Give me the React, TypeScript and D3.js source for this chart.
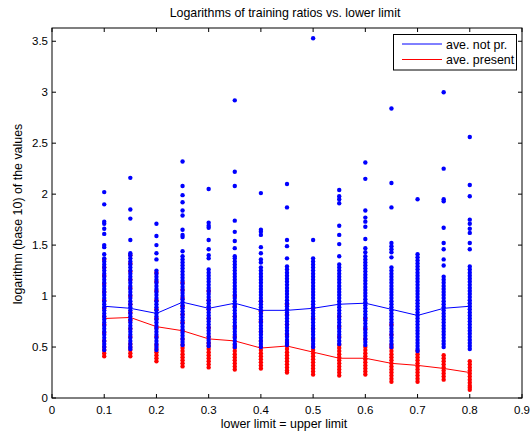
import React from 'react';
import * as d3 from 'd3';

// lower limit (= upper limit) values on the x axis
const lowerLimits = [0.1, 0.15, 0.2, 0.25, 0.3, 0.35, 0.4, 0.45, 0.5, 0.55, 0.6, 0.65, 0.7, 0.75, 0.8];

// averages of log10 ratios
const aveNotPresent = [0.90, 0.88, 0.83, 0.94, 0.88, 0.93, 0.86, 0.86, 0.88, 0.92, 0.93, 0.87, 0.81, 0.88, 0.90];
const avePresent = [0.78, 0.79, 0.70, 0.66, 0.58, 0.56, 0.49, 0.51, 0.45, 0.39, 0.39, 0.34, 0.32, 0.29, 0.25];

// individual log10 values, one list per lower limit
const notPresentValues = [
  [2.02, 1.90, 1.73, 1.71, 1.66, 1.61, 1.50, 1.48, 1.41, 1.37, 1.34, 1.31, 1.28, 1.25, 1.22, 1.19, 1.16, 1.13, 1.10, 1.07, 1.04, 1.01, 0.98, 0.95, 0.92, 0.89, 0.86, 0.83, 0.80, 0.77, 0.74, 0.71, 0.68, 0.65, 0.62, 0.59, 0.56, 0.53, 0.50, 0.47],
  [2.16, 1.85, 1.76, 1.55, 1.42, 1.40, 1.37, 1.34, 1.31, 1.28, 1.25, 1.22, 1.19, 1.16, 1.13, 1.10, 1.07, 1.04, 1.01, 0.98, 0.95, 0.92, 0.89, 0.86, 0.83, 0.80, 0.77, 0.74, 0.71, 0.68, 0.65, 0.62, 0.59, 0.56, 0.53, 0.50, 0.48],
  [1.71, 1.59, 1.50, 1.42, 1.36, 1.25, 1.22, 1.19, 1.16, 1.13, 1.10, 1.07, 1.04, 1.01, 0.98, 0.95, 0.92, 0.89, 0.86, 0.83, 0.80, 0.77, 0.74, 0.71, 0.68, 0.65, 0.62, 0.59, 0.56, 0.53, 0.50, 0.47],
  [2.32, 2.08, 1.99, 1.92, 1.84, 1.79, 1.65, 1.60, 1.58, 1.44, 1.39, 1.36, 1.33, 1.30, 1.27, 1.24, 1.21, 1.18, 1.15, 1.12, 1.09, 1.06, 1.03, 1.00, 0.97, 0.94, 0.91, 0.88, 0.85, 0.82, 0.79, 0.76, 0.73, 0.70, 0.67, 0.64, 0.61, 0.58, 0.55, 0.52],
  [2.05, 1.72, 1.69, 1.67, 1.55, 1.46, 1.40, 1.37, 1.26, 1.23, 1.20, 1.17, 1.14, 1.11, 1.08, 1.05, 1.02, 0.99, 0.96, 0.93, 0.90, 0.87, 0.84, 0.81, 0.78, 0.75, 0.72, 0.69, 0.66, 0.63, 0.60, 0.57, 0.54, 0.51],
  [2.92, 2.22, 2.08, 1.74, 1.63, 1.54, 1.47, 1.39, 1.37, 1.34, 1.31, 1.28, 1.25, 1.22, 1.19, 1.16, 1.13, 1.10, 1.07, 1.04, 1.01, 0.98, 0.95, 0.92, 0.89, 0.86, 0.83, 0.80, 0.77, 0.74, 0.71, 0.68, 0.65, 0.62, 0.59, 0.56, 0.53, 0.50],
  [2.01, 1.65, 1.63, 1.60, 1.48, 1.42, 1.36, 1.33, 1.28, 1.25, 1.22, 1.19, 1.16, 1.13, 1.10, 1.07, 1.04, 1.01, 0.98, 0.95, 0.92, 0.89, 0.86, 0.83, 0.80, 0.77, 0.74, 0.71, 0.68, 0.65, 0.62, 0.59, 0.56, 0.53, 0.50],
  [2.10, 1.87, 1.55, 1.49, 1.37, 1.29, 1.26, 1.23, 1.20, 1.17, 1.14, 1.11, 1.08, 1.05, 1.02, 0.99, 0.96, 0.93, 0.90, 0.87, 0.84, 0.81, 0.78, 0.75, 0.72, 0.69, 0.66, 0.63, 0.60, 0.57, 0.54, 0.52],
  [3.53, 1.55, 1.37, 1.34, 1.31, 1.28, 1.25, 1.22, 1.19, 1.16, 1.13, 1.10, 1.07, 1.04, 1.01, 0.98, 0.95, 0.92, 0.89, 0.86, 0.83, 0.80, 0.77, 0.74, 0.71, 0.68, 0.65, 0.62, 0.59, 0.56, 0.53, 0.50],
  [2.04, 1.98, 1.95, 1.91, 1.69, 1.60, 1.51, 1.39, 1.31, 1.28, 1.25, 1.22, 1.19, 1.16, 1.13, 1.10, 1.07, 1.04, 1.01, 0.98, 0.95, 0.92, 0.89, 0.86, 0.83, 0.80, 0.77, 0.74, 0.71, 0.68, 0.65, 0.62, 0.59, 0.56, 0.53],
  [2.31, 2.15, 1.84, 1.77, 1.73, 1.68, 1.56, 1.47, 1.43, 1.39, 1.36, 1.33, 1.30, 1.27, 1.24, 1.21, 1.18, 1.15, 1.12, 1.09, 1.06, 1.03, 1.00, 0.97, 0.94, 0.91, 0.88, 0.85, 0.82, 0.79, 0.76, 0.73, 0.70, 0.67, 0.64, 0.61, 0.58, 0.55, 0.52],
  [2.84, 2.11, 1.87, 1.52, 1.49, 1.46, 1.43, 1.38, 1.28, 1.25, 1.22, 1.19, 1.16, 1.13, 1.10, 1.07, 1.04, 1.01, 0.98, 0.95, 0.92, 0.89, 0.86, 0.83, 0.80, 0.77, 0.74, 0.71, 0.68, 0.65, 0.62, 0.59, 0.56, 0.53, 0.50],
  [1.95, 1.41, 1.38, 1.35, 1.32, 1.29, 1.26, 1.23, 1.20, 1.17, 1.14, 1.11, 1.08, 1.05, 1.02, 0.99, 0.96, 0.93, 0.90, 0.87, 0.84, 0.81, 0.78, 0.75, 0.72, 0.69, 0.66, 0.63, 0.60, 0.57, 0.54, 0.51, 0.48, 0.46],
  [3.00, 2.25, 1.95, 1.93, 1.67, 1.52, 1.46, 1.36, 1.30, 1.19, 1.16, 1.13, 1.10, 1.07, 1.04, 1.01, 0.98, 0.95, 0.92, 0.89, 0.86, 0.83, 0.80, 0.77, 0.74, 0.71, 0.68, 0.65, 0.62, 0.59, 0.56, 0.53, 0.50],
  [2.56, 2.09, 1.98, 1.75, 1.71, 1.66, 1.62, 1.52, 1.46, 1.29, 1.26, 1.23, 1.20, 1.17, 1.14, 1.11, 1.08, 1.05, 1.02, 0.99, 0.96, 0.93, 0.90, 0.87, 0.84, 0.81, 0.78, 0.75, 0.72, 0.69, 0.66, 0.63, 0.60, 0.57, 0.54, 0.51, 0.48],
];

const presentValues = [
  [1.36, 1.28, 1.20, 1.12, 1.04, 0.96, 0.88, 0.80, 0.72, 0.64, 0.56, 0.50, 0.47, 0.44, 0.41],
  [1.40, 1.32, 1.24, 1.16, 1.08, 1.00, 0.92, 0.84, 0.76, 0.68, 0.60, 0.53, 0.50, 0.47, 0.44, 0.41],
  [1.23, 1.14, 1.05, 0.96, 0.87, 0.78, 0.69, 0.60, 0.52, 0.48, 0.45, 0.42, 0.39, 0.36],
  [1.13, 1.06, 0.98, 0.90, 0.82, 0.74, 0.66, 0.58, 0.52, 0.49, 0.46, 0.43, 0.40, 0.37, 0.34, 0.31],
  [1.05, 0.96, 0.87, 0.78, 0.69, 0.60, 0.54, 0.51, 0.48, 0.45, 0.42, 0.39, 0.36, 0.33, 0.30],
  [1.00, 0.90, 0.80, 0.70, 0.60, 0.52, 0.49, 0.46, 0.43, 0.40, 0.37, 0.34, 0.31, 0.28],
  [0.95, 0.85, 0.75, 0.65, 0.56, 0.50, 0.47, 0.44, 0.41, 0.38, 0.35, 0.32, 0.29],
  [0.92, 0.82, 0.72, 0.62, 0.55, 0.51, 0.48, 0.45, 0.42, 0.39, 0.36, 0.33, 0.30, 0.27, 0.25],
  [0.88, 0.78, 0.68, 0.58, 0.50, 0.47, 0.44, 0.41, 0.38, 0.35, 0.32, 0.29, 0.26, 0.23],
  [0.80, 0.70, 0.60, 0.52, 0.49, 0.46, 0.43, 0.40, 0.37, 0.34, 0.31, 0.28, 0.25, 0.22],
  [0.78, 0.68, 0.58, 0.50, 0.47, 0.44, 0.41, 0.38, 0.35, 0.32, 0.29, 0.26, 0.23],
  [0.72, 0.62, 0.52, 0.49, 0.46, 0.43, 0.40, 0.37, 0.34, 0.31, 0.28, 0.25, 0.22, 0.19, 0.16],
  [0.46, 0.43, 0.40, 0.37, 0.34, 0.31, 0.28, 0.25, 0.22, 0.19, 0.16],
  [0.42, 0.39, 0.36, 0.33, 0.30, 0.27, 0.24, 0.21, 0.18],
  [0.36, 0.33, 0.30, 0.27, 0.24, 0.21, 0.18, 0.15, 0.12, 0.10, 0.08],
];

const xTicks = [0, 0.1, 0.2, 0.3, 0.4, 0.5, 0.6, 0.7, 0.8, 0.9];
const yTicks = [0, 0.5, 1, 1.5, 2, 2.5, 3, 3.5];
const legendLabels = ['ave. not pr.', 'ave. present'];

const W = 530, H = 433;
const left = 52, right = 522, top = 28, bottom = 398;
const font = 'Liberation Sans, Arial, Helvetica, sans-serif';
const BLUE = '#0000ff', RED = '#ff0000';

export default function App() {
  const x = d3.scaleLinear().domain([0, 0.9]).range([left, right]);
  const y = d3.scaleLinear().domain([0, 3.63]).range([bottom, top]);
  const line = d3.line<number>().x((_, i) => x(lowerLimits[i])).y(d => y(d));
  const tick = 4;
  const r = 2.2;

  return (
    <div style={{ position: 'absolute', left: 0, top: 0 }}>
      <svg width={W} height={H} style={{ display: 'block', background: '#fff' }} fontFamily={font}>
        <rect x={left} y={top} width={right - left} height={bottom - top} fill="#fff" />

        {/* average lines */}
        <path d={line(aveNotPresent) || ''} fill="none" stroke={BLUE} strokeWidth={1} />
        <path d={line(avePresent) || ''} fill="none" stroke={RED} strokeWidth={1} />

        {/* individual values */}
        <g fill={RED}>
          {presentValues.map((vals, i) => vals.map((v, j) => (
            <circle key={`r${i}-${j}`} cx={x(lowerLimits[i])} cy={y(v)} r={r} />
          )))}
        </g>
        <g fill={BLUE}>
          {notPresentValues.map((vals, i) => vals.map((v, j) => (
            <circle key={`b${i}-${j}`} cx={x(lowerLimits[i])} cy={y(v)} r={r} />
          )))}
        </g>

        {/* frame and ticks */}
        <rect x={left} y={top} width={right - left} height={bottom - top} fill="none" stroke="#000" strokeWidth={1} />
        <g stroke="#000" strokeWidth={1}>
          {xTicks.map(t => (
            <g key={`xt${t}`}>
              <line x1={x(t)} x2={x(t)} y1={bottom} y2={bottom - tick} />
              <line x1={x(t)} x2={x(t)} y1={top} y2={top + tick} />
            </g>
          ))}
          {yTicks.map(t => (
            <g key={`yt${t}`}>
              <line x1={left} x2={left + tick} y1={y(t)} y2={y(t)} />
              <line x1={right} x2={right - tick} y1={y(t)} y2={y(t)} />
            </g>
          ))}
        </g>
        <g fontSize={11.5} fill="#000">
          {xTicks.map(t => (
            <text key={`xl${t}`} x={x(t)} y={bottom + 16} textAnchor="middle">{d3.format('~g')(t)}</text>
          ))}
          {yTicks.map(t => (
            <text key={`yl${t}`} x={left - 4} y={y(t) + 4} textAnchor="end">{d3.format('~g')(t)}</text>
          ))}
        </g>

        {/* titles */}
        <text x={(left + right) / 2 - 2} y={17} textAnchor="middle" fontSize={12.4}>Logarithms of training ratios vs. lower limit</text>
        <text x={(left + right) / 2 - 3} y={428} textAnchor="middle" fontSize={12.4}>lower limit = upper limit</text>
        <text transform={`translate(22,${(top + bottom) / 2 + 1}) rotate(-90)`} textAnchor="middle" fontSize={12.4}>logarithm (base 10) of the values</text>

        {/* legend */}
        <g>
          <rect x={393.5} y={34.5} width={123} height={35.5} fill="#fff" stroke="#000" strokeWidth={1} />
          {legendLabels.map((lbl, i) => (
            <g key={lbl} transform={`translate(0,${44 + i * 15.5})`}>
              <line x1={402} x2={442} y1={0} y2={0} stroke={i === 0 ? BLUE : RED} strokeWidth={1} />
              <text x={446} y={4.5} fontSize={12.4}>{lbl}</text>
            </g>
          ))}
        </g>
      </svg>
    </div>
  );
}
